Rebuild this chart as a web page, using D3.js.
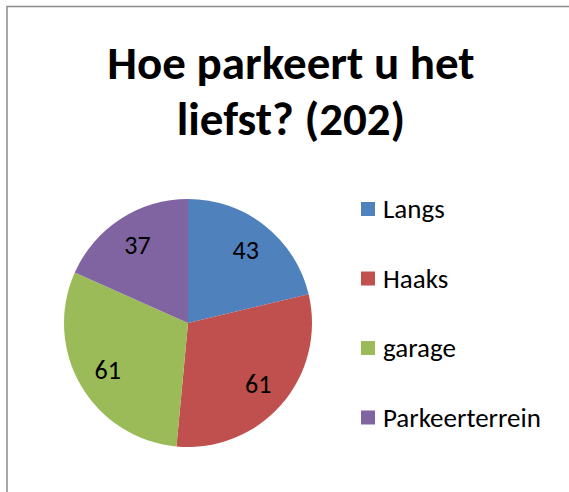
<!DOCTYPE html>
<html>
<head>
<meta charset="utf-8">
<script src="https://cdn.jsdelivr.net/npm/d3@7"></script>
<style>
  html, body { margin: 0; padding: 0; overflow: hidden; background: #fff; }
  svg { display: block; }
  svg text { font-family: Carlito, Calibri, Lato, "Open Sans", sans-serif; }
</style>
</head>
<body>
<svg id="chart" width="569" height="492"></svg>
<script>
// Chart data
const categories = ["Langs", "Haaks", "garage", "Parkeerterrein"];
const counts = [43, 61, 61, 37];
const colors = ["#4F81BD", "#C0504D", "#9BBB59", "#8064A2"];
const titleLines = ["Hoe parkeert u het", "liefst? (202)"];

const svg = d3.select("#chart");

// Chart frame: only the top and left edges are inside the picture
svg.append("path")
  .attr("d", "M7,492V6.5H569")
  .attr("fill", "none")
  .attr("stroke", "#8c8c8c")
  .attr("stroke-width", 1.5);

// Title
svg.append("g")
  .selectAll("text")
  .data(titleLines)
  .join("text")
  .attr("x", 291)
  .attr("y", (d, i) => 79 + i * 56)
  .attr("text-anchor", "middle")
  .attr("font-size", "47px")
  .attr("font-weight", "bold")
  .attr("fill", "#000")
  .text(d => d);

// Pie
const radius = 124;
const pieG = svg.append("g").attr("transform", "translate(188,323)");
const color = d3.scaleOrdinal().domain(categories).range(colors);
const pie = d3.pie().sort(null).value(d => d.value);
const arcs = pie(categories.map((c, i) => ({ name: c, value: counts[i] })));
const arc = d3.arc().innerRadius(0).outerRadius(radius);
const labelArc = d3.arc().innerRadius(radius * 0.75).outerRadius(radius * 0.75);

pieG.selectAll("path")
  .data(arcs)
  .join("path")
  .attr("d", arc)
  .attr("fill", d => color(d.data.name));

pieG.selectAll("text")
  .data(arcs)
  .join("text")
  .attr("transform", d => `translate(${labelArc.centroid(d)})`)
  .attr("text-anchor", "middle")
  .attr("dy", "0.33em")
  .attr("font-size", "26px")
  .attr("fill", "#000")
  .text(d => d.data.value);

// Legend
const legend = svg.append("g").attr("transform", "translate(361,202)");
const item = legend.selectAll("g")
  .data(categories)
  .join("g")
  .attr("transform", (d, i) => `translate(0,${i * 69.5})`);

item.append("rect")
  .attr("width", 14)
  .attr("height", 14)
  .attr("fill", d => color(d));

item.append("text")
  .attr("x", 22)
  .attr("y", 16)
  .attr("font-size", "27px")
  .attr("fill", "#000")
  .text(d => d);
</script>
</body>
</html>
